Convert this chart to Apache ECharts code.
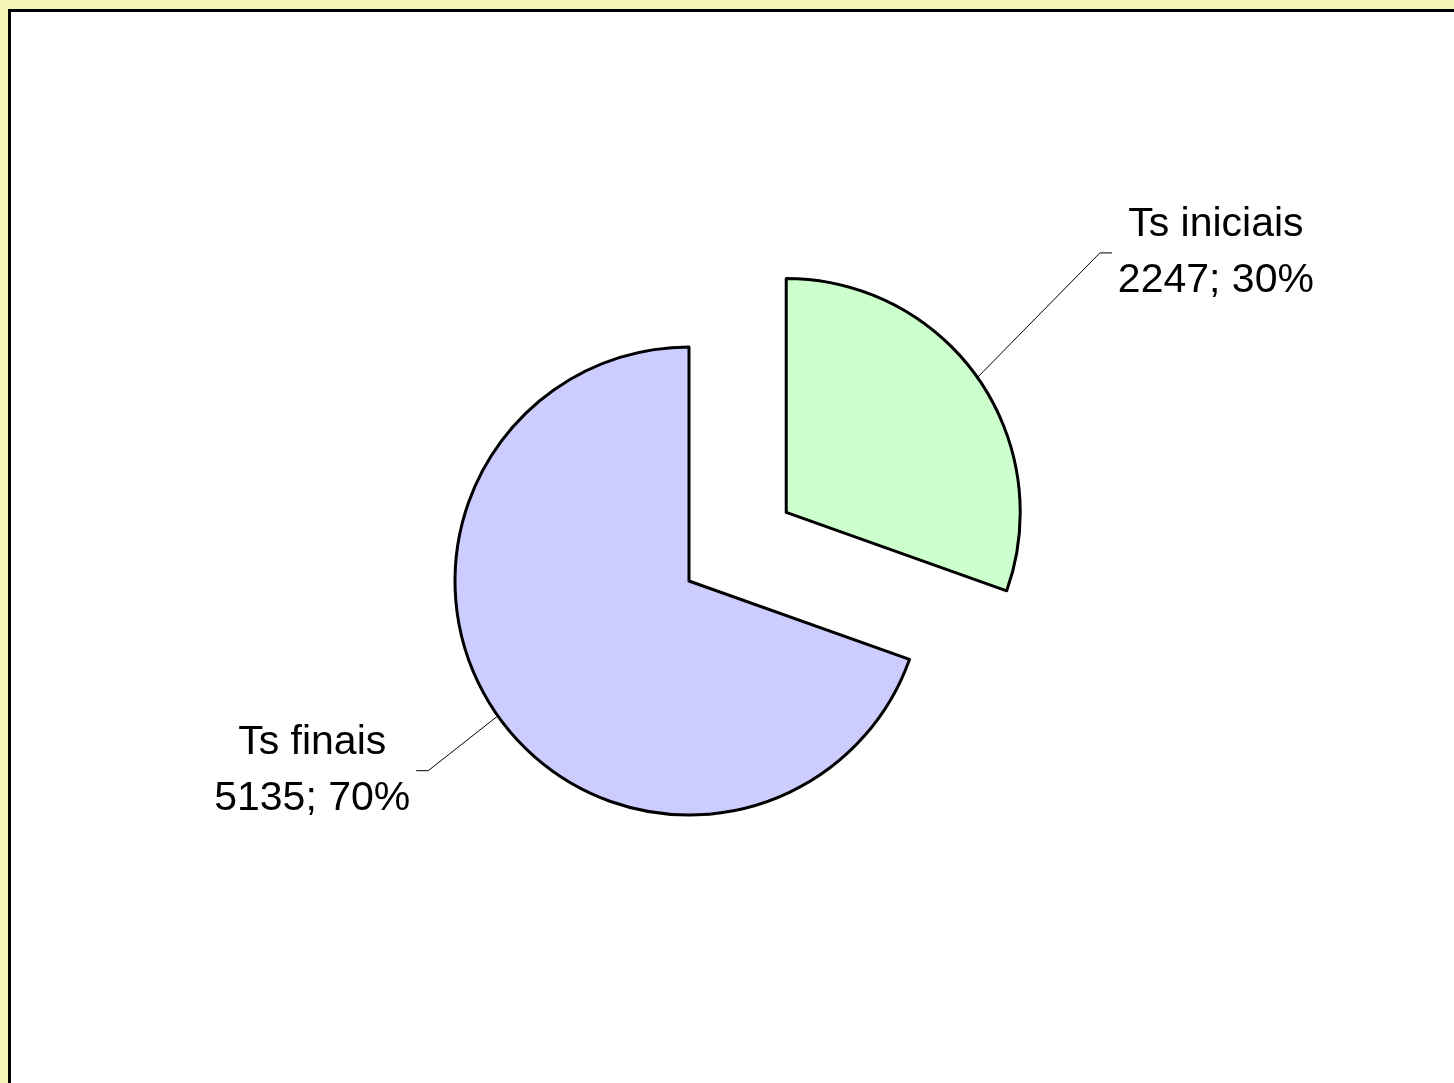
<!DOCTYPE html>
<html>
<head>
<meta charset="utf-8">
<script src="https://cdn.jsdelivr.net/npm/echarts@6/dist/echarts.min.js"></script>
<style>
  html, body { margin: 0; padding: 0; overflow: hidden; width: 1454px; height: 1083px; background: #F5F5B8; }
  #chart { position: absolute; left: 8px; top: 9px; width: 1460px; height: 1090px; border: 3px solid #000; background: #fff; }
</style>
</head>
<body>
<div id="chart"></div>
<script>
// dados
const names = ['Ts iniciais', 'Ts finais']
const values = [2247, 5135]
const colors = ['#CCFFCC', '#CCCCFF']

// comprimento das linhas guia de cada rótulo
const guideLen = [216, 95]
const guideLen2 = [62, 108]

let myChart = echarts.init(document.getElementById('chart'))
let pieData = names.map(function (n, i) {
  return {
    name: n,
    value: values[i],
    selected: i === 0,
    itemStyle: { color: colors[i] },
    labelLine: { length: guideLen[i], length2: guideLen2[i] }
  }
})

let option = {
  backgroundColor: '#fff',
  animation: false,
  series: [
    {
      type: 'pie',
      center: [678, 569],
      radius: 234,
      startAngle: 90,
      clockwise: true,
      avoidLabelOverlap: false,
      selectedMode: 'single',
      selectedOffset: 119,
      percentPrecision: 0,
      itemStyle: {
        borderColor: '#000',
        borderWidth: 3
      },
      label: {
        show: true,
        position: 'outside',
        formatter: '{b}\n{c}; {d}%',
        color: '#000',
        fontFamily: 'Liberation Sans',
        fontSize: 41,
        lineHeight: 56,
        distanceToLabelLine: 0
      },
      labelLine: {
        show: true,
        lineStyle: { color: '#000', width: 1 }
      },
      // rótulo centrado no fim da linha; a linha termina na borda do texto
      labelLayout: function (params) {
        const pts = params.labelLinePoints
        if (!pts) return {}
        const half = params.labelRect.width / 2
        const a = pts[2]
        const side = a[0] > pts[1][0] ? -1 : 1
        const endX = a[0] + side * (half + 6)
        return {
          align: 'center',
          verticalAlign: 'middle',
          labelLinePoints: [pts[0], [endX + side * 12, a[1]], [endX, a[1]]]
        }
      },
      emphasis: { disabled: true },
      data: pieData
    }
  ]
}
myChart.setOption(option)
</script>
</body>
</html>
